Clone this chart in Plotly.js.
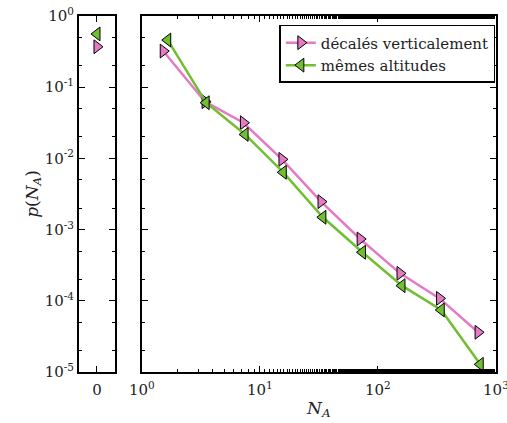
<!DOCTYPE html>
<html><head><meta charset="utf-8">
<script src="https://cdn.plot.ly/plotly-3.0.1.min.js"></script>
<style>html,body{margin:0;padding:0;background:#fff}#plot{width:507px;height:423px}</style>
</head><body><div id="plot"></div>
<script>
// Data
const seriesNames = ["décalés verticalement", "mêmes altitudes"];
const zeroX = [0];
const pinkZeroY = [0.37];
const greenZeroY = [0.56];
const pinkX = [1.52, 3.44, 7.26, 15.4, 33, 70.8, 154, 333, 706];
const pinkY = [0.322, 0.0626, 0.0317, 0.0097, 0.00247, 0.000738, 0.000243, 0.000108, 3.61e-5];
const greenX = [1.66, 3.51, 7.5, 15.8, 34.2, 74, 160, 344, 736];
const greenY = [0.46, 0.0606, 0.0217, 0.00638, 0.00149, 0.00048, 0.000163, 7.43e-5, 1.28e-5];
const yTickVals = [1, 0.1, 0.01, 0.001, 0.0001, 0.00001];
const yTickText = ["10<sup>0</sup>", "10<sup>-1</sup>", "10<sup>-2</sup>", "10<sup>-3</sup>", "10<sup>-4</sup>", "10<sup>-5</sup>"];
const xTickVals = [1, 10, 100, 1000];
const xTickText = ["10<sup>0</sup>", "10<sup>1</sup>", "10<sup>2</sup>", "10<sup>3</sup>"];

const pink = "#e57ac4", green = "#72be33";
const font = {family: "DejaVu Serif", size: 15, color: "#222"};

const traces = [
  {x: zeroX, y: pinkZeroY, xaxis: "x", yaxis: "y", mode: "markers", showlegend: false,
   marker: {symbol: "triangle-right", size: 12, color: pink, line: {color: "#000", width: 1}}},
  {x: zeroX, y: greenZeroY, xaxis: "x", yaxis: "y", mode: "markers", showlegend: false,
   marker: {symbol: "triangle-left", size: 12, color: green, line: {color: "#000", width: 1}}},
  {x: pinkX, y: pinkY, xaxis: "x2", yaxis: "y2", mode: "lines+markers", name: seriesNames[0],
   line: {color: pink, width: 2.5},
   marker: {symbol: "triangle-right", size: 12, color: pink, line: {color: "#000", width: 1}}},
  {x: greenX, y: greenY, xaxis: "x2", yaxis: "y2", mode: "lines+markers", name: seriesNames[1],
   line: {color: green, width: 2.5},
   marker: {symbol: "triangle-left", size: 12, color: green, line: {color: "#000", width: 1}}}
];

const axLine = {showline: true, linecolor: "#000", linewidth: 2, mirror: "ticks",
  ticks: "inside", ticklen: 6, tickwidth: 1, tickcolor: "#000", showgrid: false, zeroline: false,
  automargin: false, tickfont: font, ticklabeloverflow: "allow"};

const layout = {
  width: 507, height: 423,
  margin: {l: 0, r: 0, t: 16, b: 51},
  paper_bgcolor: "#fff", plot_bgcolor: "#fff",
  font: font,
  showlegend: true,
  legend: {x: 0.977, xanchor: "right", y: 0.975, yanchor: "top",
    bgcolor: "#fff", bordercolor: "#000", borderwidth: 1.5,
    font: {family: "DejaVu Serif", size: 15, color: "#222"}, itemwidth: 30, tracegroupgap: 0},
  xaxis: Object.assign({}, axLine, {domain: [0.1558, 0.2268], range: [-1, 1],
    tickvals: [0], ticktext: ["0"], ticklabelstandoff: 3}),
  xaxis2: Object.assign({}, axLine, {domain: [0.2795, 0.9783], type: "log", range: [-0.0005, 3.0005],
    tickvals: xTickVals, ticktext: xTickText, ticklabelstandoff: 3,
    minor: {ticks: "inside", ticklen: 3, tickcolor: "#000", showgrid: false},
    title: {text: "<i>N<sub>A</sub></i>", font: {family: "DejaVu Serif", size: 17, color: "#222"}, standoff: 4}}),
  yaxis: Object.assign({}, axLine, {domain: [0, 1], type: "log", range: [-5.0005, 0.0005], anchor: "x",
    tickvals: yTickVals, ticktext: yTickText,
    minor: {ticks: "inside", ticklen: 3, tickcolor: "#000", showgrid: false},
    title: {text: "<i>p</i>(<i>N<sub>A</sub></i>)", font: {family: "DejaVu Serif", size: 17, color: "#222"}, standoff: 2}}),
  yaxis2: Object.assign({}, axLine, {domain: [0, 1], type: "log", range: [-5.0005, 0.0005], anchor: "x2",
    tickvals: yTickVals, showticklabels: false,
    minor: {ticks: "inside", ticklen: 3, tickcolor: "#000", showgrid: false}})
};

Plotly.newPlot("plot", traces, layout, {displayModeBar: false, staticPlot: true});
</script></body></html>
